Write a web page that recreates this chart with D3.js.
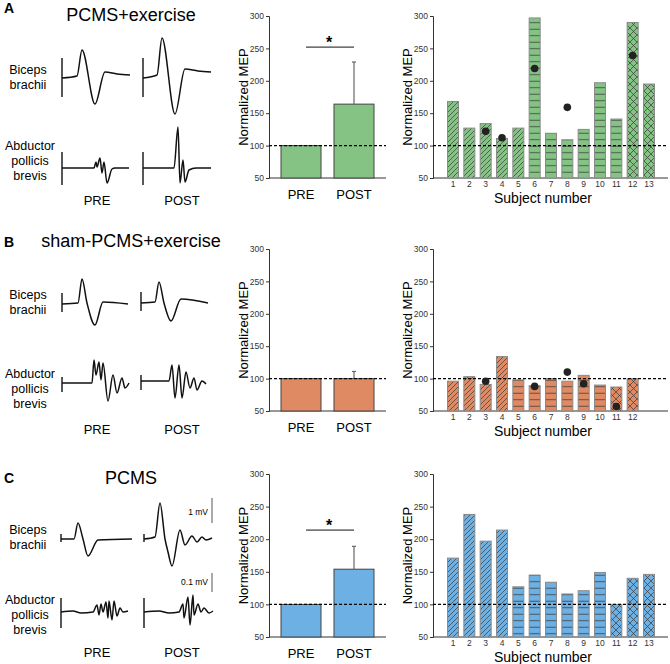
<!DOCTYPE html>
<html><head><meta charset="utf-8">
<script src="https://cdn.jsdelivr.net/npm/d3@7"></script>
<style>body{margin:0;background:#fff}svg{display:block;font-family:"Liberation Sans",Arial,sans-serif}</style>
</head><body><svg id="c" width="670" height="664"></svg>
<script>
// ---------- DATA ----------
const panelLetters = ["A","B","C"];
const panelTitles = ["PCMS+exercise","sham-PCMS+exercise","PCMS"];
const groupLabels = ["PRE","POST"];
const yTicks = [50,100,150,200,250,300];
// group means (PRE, POST) and POST error top
const meanA = [100,164], errA = [null,229];
const meanB = [100,100], errB = [null,111];
const meanC = [100,154], errC = [null,189];
const sigA = true, sigB = false, sigC = true;
// individual subjects
const subjectsA = [1,2,3,4,5,6,7,8,9,10,11,12,13];
const valuesA = [168,127,134,111,127,297,119,109,125,197,141,290,195];
const patternA = ["d","d","d","d","d","h","h","h","h","h","h","x","x"];
const dotsA = [[3,122],[4,112],[6,219],[8,159],[12,239]];
const subjectsB = [1,2,3,4,5,6,7,8,9,10,11,12];
const valuesB = [96,103,91,134,98,89,100,96,105,90,87,100];
const patternB = ["d","d","d","d","h","h","h","h","h","h","x","x"];
const dotsB = [[3,96],[6,88],[8,110],[9,92],[11,57]];
const subjectsC = [1,2,3,4,5,6,7,8,9,10,11,12,13];
const valuesC = [171,238,197,214,127,145,134,116,121,149,100,140,146];
const patternC = ["d","d","d","d","h","h","h","h","h","h","x","x","x"];
const dotsC = [];
const subjectTicks = [1,2,3,4,5,6,7,8,9,10,11,12,13];
// MEP traces: [time, amplitude] samples; artifact = [top, bottom]
const bicepsPreA  = [[0,-1],[15,1],[20,27],[33,-27],[43,5],[55,3],[68,2]];
const bicepsPostA = [[0,-1],[14,2],[19,39],[32,-37],[42,8],[55,6],[68,5]];
const apbPreA  = [[0,0],[32,0],[34,6],[35,1],[38,10],[40,-5],[42,6],[45,-15],[50,-1],[53,0],[67,0]];
const apbPostA = [[0,0],[31,0],[35,41],[37,-15],[40,8],[42,-14],[46,-2],[53,0],[68,0]];
const bicepsPreB  = [[0,0],[16,1],[20,25],[25,1],[33,-21],[41,2],[66,0]];
const bicepsPostB = [[0,0],[14,1],[18,21],[23,0],[30,-18],[40,4],[67,0]];
const apbPreB  = [[0,0],[30,0],[32,23],[34,8],[37,21],[39,3],[41,20],[46,-18],[51,8],[55,-10],[60,5],[63,-5],[67,0]];
const apbPostB = [[0,0],[28,0],[31,16],[34,-17],[38,16],[41,-17],[45,9],[49,-7],[53,3],[56,-9],[61,0],[65,-3]];
const bicepsPreC  = [[0,0],[13,0],[17,16],[22,0],[27,-17],[37,-1],[71,0]];
const bicepsPostC = [[0,0],[11,2],[16,36],[21,0],[24,-13],[28,-27],[36,9],[41,-6],[48,3],[53,-3],[58,2],[62,-1],[68,1]];
const apbPreC  = [[0,0],[12,1],[20,-1],[32,0],[36,7],[38,-3],[40,8],[42,0],[45,10],[47,-6],[48,11],[51,-8],[53,11],[56,-4],[59,4],[62,0],[67,1]];
const apbPostC = [[0,0],[15,1],[25,-1],[35,0],[39,8],[40,-6],[44,15],[46,-13],[49,17],[50,-3],[54,8],[57,0],[60,4],[65,-1],[69,1]];
const artifacts = {
  A:{bic:[19,-20], apb:[16,-17]},
  B:{bic:[11,-8], apb:[6,-9]},
  C:{bic:[5,-3], apb:[14,-16]}
};
const muscleLabels = [["Biceps","brachii"],["Abductor","pollicis","brevis"]];
const scaleBarLabels = ["1 mV","0.1 mV"];
const colors = {A:"#84c384", B:"#e08a63", C:"#6db0e3"};

// ---------- DRAW ----------
const svg = d3.select("#c");
const defs = svg.append("defs");
function makePatterns(key,color){
  let p = defs.append("pattern").attr("id",key+"d").attr("patternUnits","userSpaceOnUse").attr("width",5).attr("height",5);
  p.append("rect").attr("width",5).attr("height",5).attr("fill",color);
  p.append("path").attr("d","M-1,1 L1,-1 M0,5 L5,0 M4,6 L6,4").attr("stroke","#3a3a3a").attr("stroke-width",0.7);
  p = defs.append("pattern").attr("id",key+"h").attr("patternUnits","userSpaceOnUse").attr("width",6).attr("height",6.5);
  p.append("rect").attr("width",6).attr("height",6.5).attr("fill",color);
  p.append("path").attr("d","M0,3.2 L6,3.2").attr("stroke","#3a3a3a").attr("stroke-width",0.8);
  p = defs.append("pattern").attr("id",key+"x").attr("patternUnits","userSpaceOnUse").attr("width",7).attr("height",7);
  p.append("rect").attr("width",7).attr("height",7).attr("fill",color);
  p.append("path").attr("d","M0,0 L7,7 M7,0 L0,7 M-1,1 L1,-1 M6,8 L8,6 M-1,6 L1,8 M6,-1 L8,1").attr("stroke","#3a3a3a").attr("stroke-width",0.7);
}
makePatterns("A",colors.A); makePatterns("B",colors.B); makePatterns("C",colors.C);

const panels = [
  {k:"A", top:16, bot:178, mean:meanA, err:errA, sig:sigA, subj:subjectsA, vals:valuesA, pat:patternA, dots:dotsA,
   titleY:15, letterY:8, pre:[62,143], traces:[bicepsPreA,bicepsPostA,apbPreA,apbPostA], base:[77,77,168,168], prepostY:200, lblY:[70,146], subjNumY:198},
  {k:"B", top:249, bot:411, mean:meanB, err:errB, sig:sigB, subj:subjectsB, vals:valuesB, pat:patternB, dots:dotsB,
   titleY:241, letterY:242, pre:[62,141], traces:[bicepsPreB,bicepsPostB,apbPreB,apbPostB], base:[304,303,383,381], prepostY:429, lblY:[295,374], subjNumY:431},
  {k:"C", top:474, bot:637, mean:meanC, err:errC, sig:sigC, subj:subjectsC, vals:valuesC, pat:patternC, dots:dotsC,
   titleY:478, letterY:478, pre:[61,144], traces:[bicepsPreC,bicepsPostC,apbPreC,apbPostC], base:[539,539,612,612], prepostY:652, lblY:[530,600], subjNumY:657}
];

const line = d3.line().curve(d3.curveMonotoneX);

panels.forEach((P,i)=>{
  const g = svg.append("g");
  g.append("text").attr("x",4).attr("y",P.letterY).attr("dy","0.35em").attr("font-weight","bold").attr("font-size",14).text(panelLetters[i]);
  g.append("text").attr("x",131).attr("y",P.titleY).attr("dy","0.35em").attr("text-anchor","middle").attr("font-size",18).text(panelTitles[i]);
  muscleLabels[0].forEach((t,j)=>g.append("text").attr("x",28).attr("y",P.lblY[0]+j*15).attr("dy","0.35em").attr("text-anchor","middle").attr("font-size",12.5).text(t));
  muscleLabels[1].forEach((t,j)=>g.append("text").attr("x",30).attr("y",P.lblY[1]+j*15).attr("dy","0.35em").attr("text-anchor","middle").attr("font-size",12.5).text(t));
  const art = artifacts[P.k];
  P.traces.forEach((tr,j)=>{
    const x0 = P.pre[j%2];
    const base = P.base[j];
    const xs = d3.scaleLinear().domain([0,70]).range([x0,x0+70]);
    const ys = d3.scaleLinear().domain([-50,50]).range([base+50,base-50]);
    const a = j<2 ? art.bic : art.apb;
    g.append("line").attr("x1",xs(0)).attr("x2",xs(0)).attr("y1",ys(a[0])).attr("y2",ys(a[1])).attr("stroke","#111").attr("stroke-width",1.4);
    g.append("path").attr("d",line(tr.map(d=>[xs(d[0]),ys(d[1])]))).attr("fill","none").attr("stroke","#111").attr("stroke-width",1.5).attr("stroke-linejoin","round");
  });
  groupLabels.forEach((t,j)=>g.append("text").attr("x",[97,182][j]).attr("y",P.prepostY).attr("dy","0.35em").attr("text-anchor","middle").attr("font-size",13).text(t));
  if(P.k==="C"){
    g.append("line").attr("x1",212).attr("x2",212).attr("y1",498).attr("y2",523).attr("stroke","#555").attr("stroke-width",1);
    g.append("text").attr("x",208).attr("y",512).attr("dy","0.35em").attr("text-anchor","end").attr("font-size",8.5).text(scaleBarLabels[0]);
    g.append("line").attr("x1",212).attr("x2",212).attr("y1",573).attr("y2",592).attr("stroke","#555").attr("stroke-width",1);
    g.append("text").attr("x",208).attr("y",582).attr("dy","0.35em").attr("text-anchor","end").attr("font-size",8.5).text(scaleBarLabels[1]);
  }

  // ---- middle bar chart ----
  const y = d3.scaleLinear().domain([50,300]).range([P.bot,P.top]);
  const xm = d3.scaleBand().domain(groupLabels).range([274.5,380.5]).paddingInner(0.245).paddingOuter(0.1226);
  const ax = g.append("g").attr("transform","translate(269,0)")
    .call(d3.axisLeft(y).tickValues(yTicks).tickSize(3).tickPadding(2));
  ax.selectAll("text").attr("font-size",8.5).attr("fill","#333").attr("font-family","Liberation Sans, Arial");
  ax.select(".domain").attr("stroke","#333");
  ax.selectAll(".tick line").attr("stroke","#333");
  g.append("line").attr("x1",269).attr("x2",386).attr("y1",P.bot).attr("y2",P.bot).attr("stroke","#333");
  P.mean.forEach((v,j)=>{
    g.append("rect").attr("x",xm(groupLabels[j])).attr("width",xm.bandwidth()).attr("y",y(v)).attr("height",P.bot-y(v))
      .attr("fill",colors[P.k]).attr("stroke","#444").attr("stroke-width",1);
    if(P.err[j]!=null){
      const cx = xm(groupLabels[j])+xm.bandwidth()/2;
      g.append("line").attr("x1",cx).attr("x2",cx).attr("y1",y(v)).attr("y2",y(P.err[j])).attr("stroke","#666").attr("stroke-width",1.2);
      g.append("line").attr("x1",cx-2).attr("x2",cx+2).attr("y1",y(P.err[j])).attr("y2",y(P.err[j])).attr("stroke","#666").attr("stroke-width",1.2);
    }
  });
  g.append("line").attr("x1",269).attr("x2",386).attr("y1",y(100)).attr("y2",y(100)).attr("stroke","#000").attr("stroke-width",1.3).attr("stroke-dasharray","3,2");
  if(P.sig){
    const ly = y(P.k==="A"?252:214);
    g.append("line").attr("x1",306).attr("x2",354).attr("y1",ly).attr("y2",ly).attr("stroke","#111").attr("stroke-width",1);
    g.append("text").attr("x",329).attr("y",ly-5).attr("dy","0.35em").attr("text-anchor","middle").attr("font-size",16).attr("font-weight","bold").text("*");
  }
  groupLabels.forEach((t,j)=>g.append("text").attr("x",xm(t)+xm.bandwidth()/2).attr("y",P.bot+16).attr("dy","0.35em").attr("text-anchor","middle").attr("font-size",13).text(t));
  g.append("text").attr("transform",`translate(243,${(P.top+P.bot)/2}) rotate(-90)`).attr("dy","0.35em").attr("text-anchor","middle").attr("font-size",13).text("Normalized MEP");

  // ---- right subject chart ----
  const xs = d3.scalePoint().domain(subjectTicks).range([453,649]);
  const bw = 11;
  const ay = g.append("g").attr("transform","translate(433,0)")
    .call(d3.axisLeft(y).tickValues(yTicks).tickSize(3).tickPadding(2));
  ay.selectAll("text").attr("font-size",8.5).attr("fill","#333").attr("font-family","Liberation Sans, Arial");
  ay.select(".domain").attr("stroke","#333");
  ay.selectAll(".tick line").attr("stroke","#333");
  g.append("line").attr("x1",433).attr("x2",668).attr("y1",P.bot).attr("y2",P.bot).attr("stroke","#333");
  P.vals.forEach((v,j)=>{
    const s = P.subj[j];
    g.append("rect").attr("x",xs(s)-bw/2).attr("width",bw).attr("y",y(v)).attr("height",P.bot-y(v))
      .attr("fill",`url(#${P.k}${P.pat[j]})`).attr("stroke","#8a8a8a").attr("stroke-width",1);
  });
  g.append("line").attr("x1",433).attr("x2",668).attr("y1",y(100)).attr("y2",y(100)).attr("stroke","#000").attr("stroke-width",1.3).attr("stroke-dasharray","3,2");
  P.dots.forEach(d=>g.append("circle").attr("cx",xs(d[0])).attr("cy",y(d[1])).attr("r",3.8).attr("fill","#222"));
  P.subj.forEach(s=>g.append("text").attr("x",xs(s)).attr("y",P.bot+6).attr("dy","0.35em").attr("text-anchor","middle").attr("font-size",8.5).attr("fill","#333").text(s));
  g.append("text").attr("x",543).attr("y",P.subjNumY).attr("dy","0.35em").attr("text-anchor","middle").attr("font-size",14).text("Subject number");
  g.append("text").attr("transform",`translate(407,${(P.top+P.bot)/2}) rotate(-90)`).attr("dy","0.35em").attr("text-anchor","middle").attr("font-size",13).text("Normalized MEP");
});
</script></body></html>
